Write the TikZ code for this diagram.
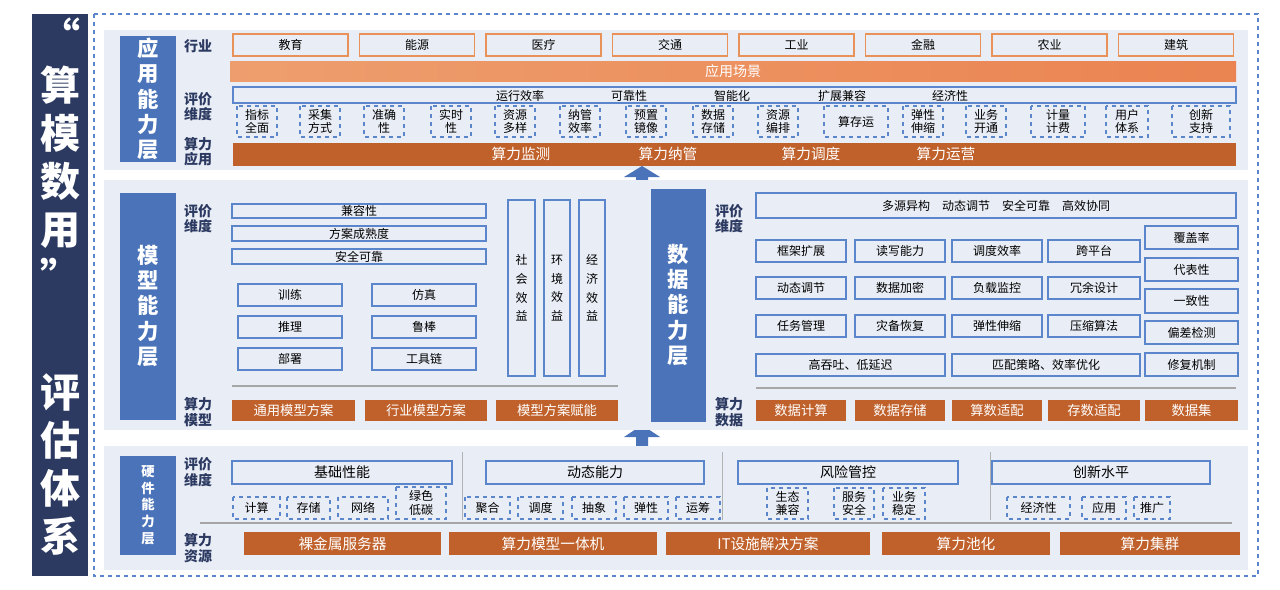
\documentclass[tikz,border=0pt]{standalone}
\usepackage{fontspec}
\setmainfont{Noto Sans CJK SC}
\usetikzlibrary{calc}
\definecolor{navy}{HTML}{2C3A62}
\definecolor{lblue}{HTML}{4A73B9}
\definecolor{panel}{HTML}{E9EDF5}
\definecolor{dorange}{HTML}{C0612B}
\definecolor{lorange}{HTML}{EE9E6E}
\definecolor{oline}{HTML}{E8925A}
\definecolor{bline}{HTML}{5B86CC}
\newcommand\bx[7]{\path[#1] (#3,#4) rectangle (#5,#6);
  \node[txt] (#2) at ($(#3,#4)!0.5!(#5,#6)$) {#7};}
\begin{document}
\begin{tikzpicture}[x=0.75pt,y=-0.75pt,
  txt/.style={font=\fontsize{9}{10}\selectfont, align=center, inner sep=0pt},
  ind/.style={draw=oline, line width=1pt},
  solid box/.style={draw=bline, line width=0.8pt},
  dash box/.style={draw=bline, dashed, line width=0.8pt},
  bar/.style={fill=dorange},
  layer/.style={fill=lblue},
  side/.style={font=\fontsize{10.5}{11.5}\selectfont\bfseries, text=navy, align=center, inner sep=0pt},
  rule/.style={draw=gray!70, line width=1.5pt},
  bigarrow/.style={fill=lblue}]
\useasboundingbox (0,0) rectangle (1280,589);
% title bar
\fill[navy] (32,14) rectangle (88,576);
\node[font=\fontsize{30}{36}\selectfont\bfseries, text=white, align=center] (title) at (60,155) {“\\算\\模\\数\\用\\”};
\node[font=\fontsize{30}{36}\selectfont\bfseries, text=white, align=center] (title2) at (60,465) {评\\估\\体\\系};
\draw[bline, dashed, line width=0.8pt] (94,14) rectangle (1258,576);

% application layer
\fill[panel] (104,30) rectangle (1248,170);
\fill[layer] (120,36) rectangle (176,162);
\node[font=\fontsize{16}{19}\selectfont\bfseries, text=white, align=center] (app) at (148,99) {应\\用\\能\\力\\层};
\node[side] (s1) at (198,46) {行业};
\node[side] (s2) at (198,107) {评价\\维度};
\node[side] (s3) at (198,152) {算力\\应用};
\foreach \t [count=\i from 0] in {教育,能源,医疗,交通,工业,金融,农业,建筑}
  \bx{ind}{ind\i}{233+126.5*\i}{34}{348+126.5*\i}{56}{\t};
\shade[left color=lorange, right color=oline!90!red] (230,61) rectangle (1236,81);
\node[txt, text=white, font=\fontsize{10.5}{12}\selectfont] (scene) at (733,71) {应用场景};
\path[solid box] (233,87) rectangle (1236,103);
\foreach \t/\x in {运行效率/520, 可靠性/629, 智能化/732, 扩展兼容/842, 经济性/950}
  \node[txt] at (\x,96) {\t};
\foreach \t/\a/\b [count=\i] in {指标\\全面/237/277, 采集\\方式/300/340, 准确\\性/364/404, 实时\\性/431/471,
  资源\\多样/495/535, 纳管\\效率/560/600, 预置\\镜像/626/666, 数据\\存储/693/733, 资源\\编排/758/798,
  算存运/824/888, 弹性\\伸缩/903/943, 业务\\开通/966/1006, 计量\\计费/1031/1085, 用户\\体系/1106/1148, 创新\\支持/1172/1230}
  \bx{dash box}{ev\i}{\a}{106}{\b}{137}{\t};
\fill[dorange] (233,143) rectangle (1236,166);
\foreach \t/\x in {算力监测/521, 算力纳管/668, 算力调度/811, 算力运营/946}
  \node[txt, text=white, font=\fontsize{11}{12}\selectfont] at (\x,154) {\t};

% arrows
\fill[bigarrow] (636,186) -- (636,177) -- (624,177) -- (642,166) -- (660,177) -- (648,177) -- (648,186) -- cycle;
\fill[bigarrow] (636,447) -- (636,437) -- (624,437) -- (642,425) -- (660,437) -- (648,437) -- (648,447) -- cycle;

% middle panel
\fill[panel] (104,180) rectangle (1248,430);
\fill[layer] (120,193) rectangle (176,420);
\node[font=\fontsize{16}{19}\selectfont\bfseries, text=white, align=center] (model) at (148,306) {模\\型\\能\\力\\层};
\node[side] (m1) at (198,219) {评价\\维度};
\node[side] (m2) at (198,412) {算力\\模型};
\bx{solid box}{mc1}{232}{204}{486}{218}{兼容性}
\bx{solid box}{mc2}{232}{226}{486}{241}{方案成熟度}
\bx{solid box}{mc3}{232}{249}{486}{264}{安全可靠}
\bx{solid box}{mt1}{238}{284}{342}{306}{训练}
\bx{solid box}{mt2}{372}{284}{476}{306}{仿真}
\bx{solid box}{mt3}{238}{316}{342}{338}{推理}
\bx{solid box}{mt4}{372}{316}{476}{338}{鲁棒}
\bx{solid box}{mt5}{238}{348}{342}{370}{部署}
\bx{solid box}{mt6}{372}{348}{476}{370}{工具链}
\bx{solid box}{mb1}{508}{200}{535}{376}{社\\[4pt]会\\[4pt]效\\[4pt]益}
\bx{solid box}{mb2}{544}{200}{570}{376}{环\\[4pt]境\\[4pt]效\\[4pt]益}
\bx{solid box}{mb3}{579}{200}{605}{376}{经\\[4pt]济\\[4pt]效\\[4pt]益}
\draw[rule] (232,386) -- (618,386);
\foreach \t/\a/\b [count=\i] in {通用模型方案/232/355, 行业模型方案/365/487, 模型方案赋能/496/618}
  {\fill[dorange] (\a,400) rectangle (\b,421);
   \node[txt, text=white, font=\fontsize{10}{11}\selectfont] (mo\i) at ($(\a,410.5)!0.5!(\b,410.5)$) {\t};}

\fill[layer] (651,189) rectangle (706,422);
\node[font=\fontsize{16}{19}\selectfont\bfseries, text=white, align=center] (data) at (678,305) {数\\据\\能\\力\\层};
\node[side] (d1) at (729,219) {评价\\维度};
\node[side] (d2) at (729,412) {算力\\数据};
\bx{solid box}{dtop}{756}{193}{1236}{218}{多源异构\quad 动态调节\quad 安全可靠\quad 高效协同}
\foreach \r/\ya/\yb/\ta/\tb/\tc/\td in {1/240/262/框架扩展/读写能力/调度效率/跨平台,
   2/277/299/动态调节/数据加密/负载监控/冗余设计, 3/315/337/任务管理/灾备恢复/弹性伸缩/压缩算法}
  {\bx{solid box}{g\r a}{756}{\ya}{846}{\yb}{\ta}
   \bx{solid box}{g\r b}{855}{\ya}{945}{\yb}{\tb}
   \bx{solid box}{g\r c}{952}{\ya}{1042}{\yb}{\tc}
   \bx{solid box}{g\r d}{1048}{\ya}{1140}{\yb}{\td}}
\bx{solid box}{g4a}{756}{354}{945}{376}{高吞吐、低延迟}
\bx{solid box}{g4b}{952}{354}{1140}{376}{匹配策略、效率优化}
\foreach \t/\ya/\yb [count=\i] in {覆盖率/226/249, 代表性/258/281, 一致性/289/313, 偏差检测/321/344, 修复机制/353/376}
  \bx{solid box}{q\i}{1145}{\ya}{1238}{\yb}{\t};
\draw[rule] (756,388) -- (1236,388);
\foreach \t/\a/\b [count=\i] in {数据计算/756/846, 数据存储/855/945, 算数适配/952/1042, 存数适配/1048/1140, 数据集/1145/1238}
  {\fill[dorange] (\a,400) rectangle (\b,421);
   \node[txt, text=white, font=\fontsize{10}{11}\selectfont] (dd\i) at ($(\a,410.5)!0.5!(\b,410.5)$) {\t};}

% hardware layer
\fill[panel] (104,446) rectangle (1248,570);
\fill[layer] (120,456) rectangle (176,555);
\node[font=\fontsize{10}{12.5}\selectfont\bfseries, text=white, align=center] (hw) at (148,505) {硬\\件\\能\\力\\层};
\node[side] (h1) at (198,472) {评价\\维度};
\node[side] (h2) at (198,548) {算力\\资源};
\foreach \x in {462,722,990} \draw[gray!60, line width=0.6pt] (\x,452) -- (\x,520);
\bx{solid box}{hh1}{232}{461}{452}{484}{\fontsize{10.5}{12}\selectfont 基础性能}
\bx{solid box}{hh2}{486}{461}{704}{484}{\fontsize{10.5}{12}\selectfont 动态能力}
\bx{solid box}{hh3}{738}{461}{958}{484}{\fontsize{10.5}{12}\selectfont 风险管控}
\bx{solid box}{hh4}{992}{461}{1210}{484}{\fontsize{10.5}{12}\selectfont 创新水平}
\foreach \t/\a/\b/\ya [count=\i] in {计算/233/280/497, 存储/287/330/497, 网络/338/388/497, 绿色\\低碳/396/446/487,
  聚合/465/510/497, 调度/518/563/497, 抽象/572/616/497, 弹性/624/668/497, 运筹/676/720/497,
  生态\\兼容/767/808/488, 服务\\安全/834/874/488, 业务\\稳定/883/925/488,
  经济性/1007/1070/497, 应用/1082/1126/497, 推广/1134/1170/497}
  \bx{dash box}{hd\i}{\a}{\ya}{\b}{519}{\t};
\draw[rule] (200,523) -- (1232,523);
\foreach \t/\a/\b [count=\i] in {裸金属服务器/244/441, 算力模型一体机/449/657, IT设施解决方案/666/870, 算力池化/882/1050, 算力集群/1060/1240}
  {\fill[dorange] (\a,532) rectangle (\b,555);
   \node[txt, text=white, font=\fontsize{11}{12}\selectfont] (hr\i) at ($(\a,543.5)!0.5!(\b,543.5)$) {\t};}
\end{tikzpicture}
\end{document}
